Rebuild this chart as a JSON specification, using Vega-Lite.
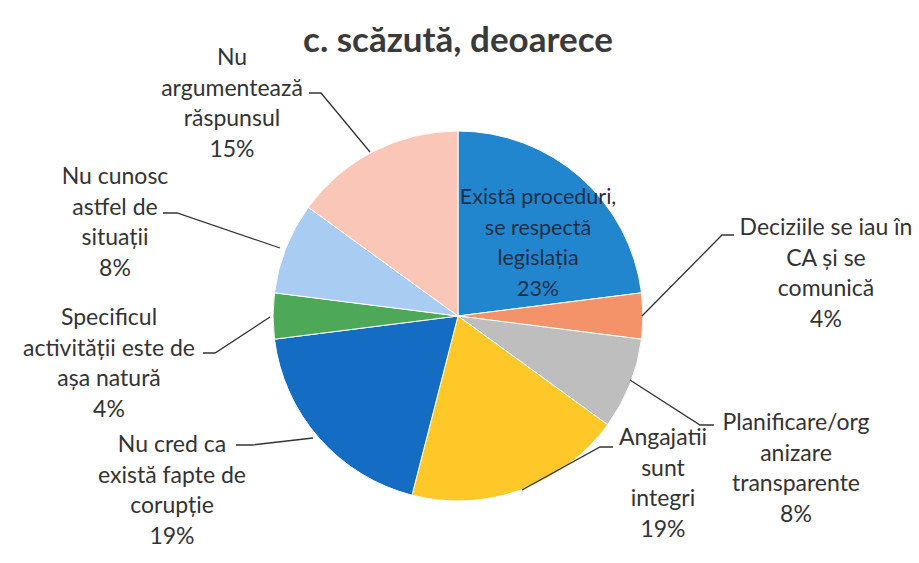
{
  "$schema": "https://vega.github.io/schema/vega-lite/v6.json",
  "width": 916,
  "height": 492,
  "autosize": {"type": "none"},
  "padding": {"left": 0, "top": 70, "right": 3, "bottom": 1},
  "background": "#ffffff",
  "config": {"view": {"stroke": null}, "font": "Lato"},
  "title": {"text": "c. scăzută, deoarece", "fontSize": 35, "font": "Lato", "fontWeight": "bold", "color": "#3a3a3a", "anchor": "middle", "frame": "group", "offset": 13, "dy": 53, "baseline": "alphabetic"},
  "datasets": {
    "slices": [
      {"idx": 1, "cat": "Există proceduri, se respectă legislația", "label": "Există proceduri,\nse respectă\nlegislația", "pct": 23},
      {"idx": 2, "cat": "Deciziile se iau în CA și se comunică", "label": "Deciziile se iau în\nCA și se\ncomunică", "pct": 4},
      {"idx": 3, "cat": "Planificare/organizare transparente", "label": "Planificare/org\nanizare\ntransparente", "pct": 8},
      {"idx": 4, "cat": "Angajatii sunt integri", "label": "Angajatii\nsunt\nintegri", "pct": 19},
      {"idx": 5, "cat": "Nu cred ca există fapte de corupție", "label": "Nu cred ca\nexistă fapte de\ncorupție", "pct": 19},
      {"idx": 6, "cat": "Specificul activității este de așa natură", "label": "Specificul\nactivității este de\nașa natură", "pct": 4},
      {"idx": 7, "cat": "Nu cunosc astfel de situații", "label": "Nu cunosc\nastfel de\nsituații", "pct": 8},
      {"idx": 8, "cat": "Nu argumentează răspunsul", "label": "Nu\nargumentează\nrăspunsul", "pct": 15}
    ],
    "leaders": [
      {"cat": "Deciziile", "k": 1}, {"cat": "Deciziile", "k": 2}, {"cat": "Deciziile", "k": 3},
      {"cat": "Planificare", "k": 4}, {"cat": "Planificare", "k": 5}, {"cat": "Planificare", "k": 6},
      {"cat": "Angajatii", "k": 7}, {"cat": "Angajatii", "k": 8}, {"cat": "Angajatii", "k": 9},
      {"cat": "Nu cred", "k": 10}, {"cat": "Nu cred", "k": 11}, {"cat": "Nu cred", "k": 12},
      {"cat": "Specificul", "k": 13}, {"cat": "Specificul", "k": 14}, {"cat": "Specificul", "k": 15},
      {"cat": "Nu cunosc", "k": 16}, {"cat": "Nu cunosc", "k": 17}, {"cat": "Nu cunosc", "k": 18},
      {"cat": "Nu argumentează", "k": 19}, {"cat": "Nu argumentează", "k": 20}, {"cat": "Nu argumentează", "k": 21}
    ]
  },
  "layer": [
    {
      "data": {"name": "slices"},
      "mark": {"type": "arc", "outerRadius": 185, "stroke": "#ffffff", "strokeWidth": 1},
      "encoding": {
        "theta": {"field": "pct", "type": "quantitative", "stack": true},
        "order": {"field": "idx", "type": "quantitative"},
        "color": {
          "field": "cat", "type": "nominal", "legend": null,
          "scale": {
            "domain": ["Există proceduri, se respectă legislația", "Deciziile se iau în CA și se comunică", "Planificare/organizare transparente", "Angajatii sunt integri", "Nu cred ca există fapte de corupție", "Specificul activității este de așa natură", "Nu cunosc astfel de situații", "Nu argumentează răspunsul"],
            "range": ["#2186CE", "#F4926A", "#BEBEBE", "#FFC829", "#156CC3", "#4DA857", "#A9CCF3", "#F9C6B7"]
          }
        }
      }
    },
    {
      "data": {"name": "leaders"},
      "mark": {"type": "line", "color": "#333333", "strokeWidth": 1.3},
      "encoding": {
        "x": {"field": "k", "type": "quantitative", "axis": null,
          "scale": {"zero": false, "nice": false,
            "domain": [1,2,3,4,5,6,7,8,9,10,11,12,13,14,15,16,17,18,19,20,21],
            "range": [642,722,734,630,700,714,522,600,613,313,252,236,270,215,203,280,177,163,370,321,309]}},
        "y": {"field": "k", "type": "quantitative", "axis": null,
          "scale": {"zero": false, "nice": false,
            "domain": [1,2,3,4,5,6,7,8,9,10,11,12,13,14,15,16,17,18,19,20,21],
            "range": [246,165,165,310,355,355,420,377,377,368,375,375,247,283,283,178,143,143,82,23,23]}},
        "detail": {"field": "cat", "type": "nominal"},
        "order": {"field": "k", "type": "quantitative"}
      }
    },
    {
      "data": {"name": "slices"},
      "transform": [{"calculate": "datum.label + '\\n' + datum.pct + '%'", "as": "txt"}],
      "mark": {"type": "text", "align": "center", "baseline": "top", "lineBreak": "\n", "lineHeight": 30.5, "font": "Lato"},
      "encoding": {
        "x": {"field": "idx", "type": "quantitative", "axis": null,
          "scale": {"zero": false, "nice": false, "domain": [1,2,3,4,5,6,7,8], "range": [538,826,796,663,172,109,115,232]}},
        "y": {"field": "idx", "type": "quantitative", "axis": null,
          "scale": {"zero": false, "nice": false, "domain": [1,2,3,4,5,6,7,8], "range": [117,147,342,357,364,237,96,-23]}},
        "text": {"field": "txt", "type": "nominal"},
        "color": {"condition": {"test": "datum.idx === 1", "value": "#1E2F45"}, "value": "#333333"},
        "size": {"condition": {"test": "datum.idx === 1", "value": 21.5}, "value": 23}
      }
    }
  ],
  "resolve": {"scale": {"x": "independent", "y": "independent"}}
}
